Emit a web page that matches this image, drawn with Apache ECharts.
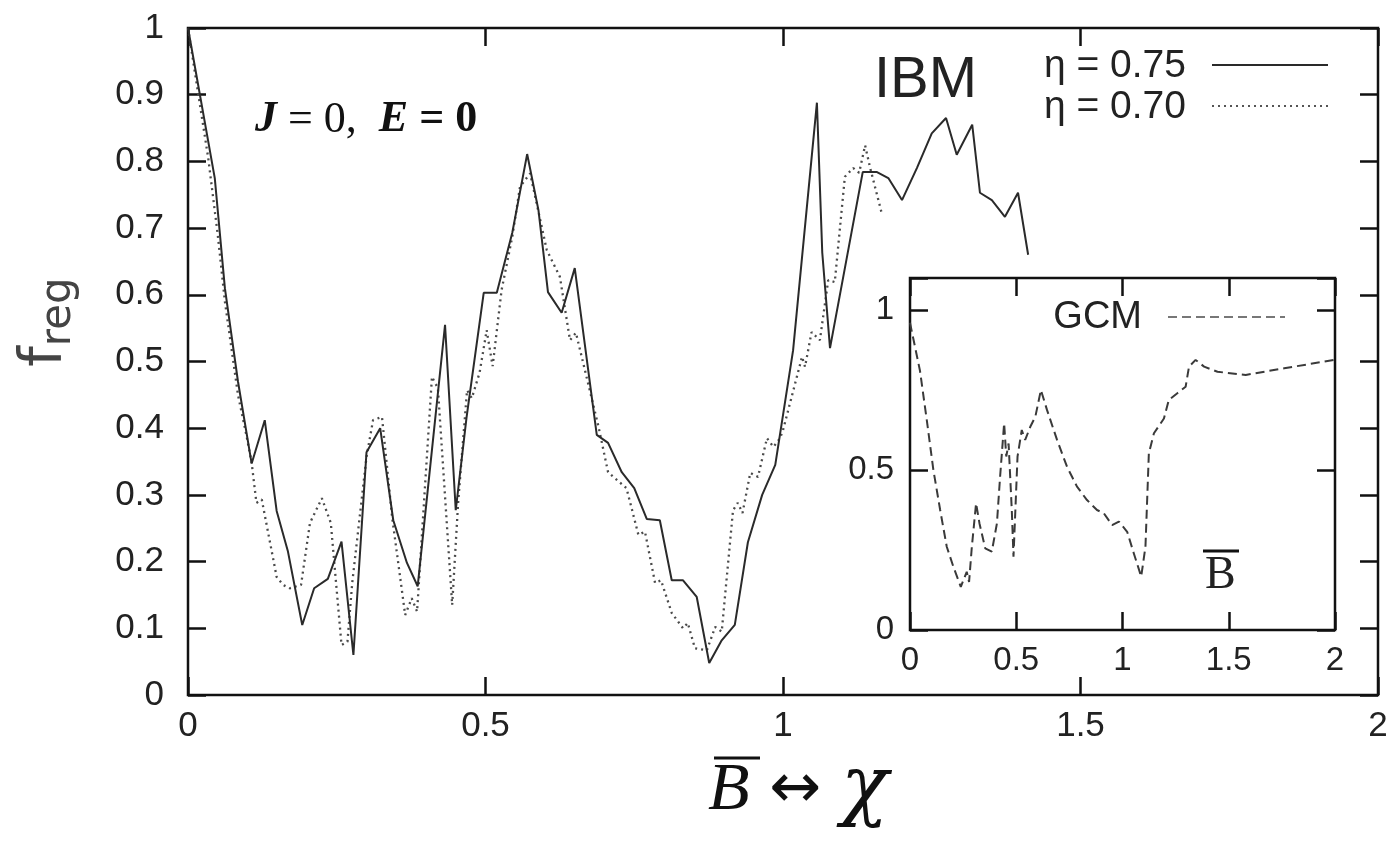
<!DOCTYPE html>
<html><head><meta charset="utf-8">
<script src="https://cdn.jsdelivr.net/npm/echarts@6/dist/echarts.min.js"></script>
<style>html,body{margin:0;padding:0;background:#fff}#c{width:1400px;height:844px}</style>
</head><body><div id="c"></div>
<script>
// ---- data ----
const ibmEta075 = [
  [0,1.0],[0.045,0.775],[0.062,0.61],[0.084,0.47],[0.107,0.347],[0.129,0.412],[0.149,0.276],
  [0.168,0.215],[0.192,0.105],[0.212,0.16],[0.235,0.174],[0.258,0.23],[0.278,0.06],[0.30,0.364],
  [0.323,0.40],[0.345,0.262],[0.368,0.198],[0.386,0.163],[0.432,0.555],[0.450,0.277],[0.468,0.415],
  [0.497,0.603],[0.519,0.603],[0.545,0.693],[0.570,0.811],[0.589,0.727],[0.605,0.604],[0.628,0.573],
  [0.650,0.640],[0.687,0.390],[0.706,0.378],[0.729,0.334],[0.750,0.310],[0.771,0.264],[0.793,0.262],
  [0.813,0.172],[0.832,0.172],[0.855,0.147],[0.876,0.048],[0.897,0.082],[0.919,0.105],[0.941,0.229],
  [0.965,0.300],[0.987,0.345],[1.017,0.517],[1.057,0.888],[1.066,0.663],[1.079,0.520],[1.134,0.784],
  [1.158,0.784],[1.177,0.775],[1.200,0.742],[1.225,0.790],[1.250,0.842],[1.274,0.865],[1.292,0.810],
  [1.318,0.855],[1.331,0.753],[1.351,0.742],[1.373,0.717],[1.395,0.753],[1.412,0.660]
];
const ibmEta070 = [
  [0,1.0],[0.034,0.805],[0.050,0.69],[0.062,0.59],[0.084,0.45],[0.098,0.39],[0.107,0.348],
  [0.115,0.288],[0.124,0.293],[0.149,0.177],[0.160,0.165],[0.171,0.16],[0.190,0.165],[0.205,0.258],
  [0.225,0.295],[0.240,0.258],[0.258,0.075],[0.268,0.08],[0.276,0.168],[0.300,0.357],[0.311,0.412],
  [0.326,0.417],[0.343,0.267],[0.365,0.120],[0.376,0.145],[0.385,0.125],[0.410,0.477],[0.420,0.46],
  [0.444,0.135],[0.454,0.288],[0.469,0.457],[0.477,0.445],[0.490,0.483],[0.502,0.547],[0.512,0.493],
  [0.527,0.607],[0.545,0.687],[0.558,0.762],[0.575,0.782],[0.603,0.667],[0.625,0.627],[0.642,0.532],
  [0.652,0.543],[0.690,0.402],[0.706,0.334],[0.737,0.310],[0.757,0.240],[0.768,0.245],[0.785,0.168],
  [0.795,0.172],[0.813,0.123],[0.832,0.100],[0.840,0.108],[0.852,0.070],[0.872,0.067],[0.886,0.102],
  [0.897,0.095],[0.916,0.277],[0.924,0.288],[0.932,0.273],[0.945,0.333],[0.958,0.327],[0.973,0.385],
  [0.984,0.372],[0.995,0.385],[1.000,0.397],[1.032,0.507],[1.037,0.492],[1.048,0.544],[1.062,0.532],
  [1.076,0.622],[1.087,0.619],[1.104,0.777],[1.118,0.790],[1.128,0.783],[1.138,0.824],[1.146,0.792],
  [1.166,0.722]
];
const gcmCurve = [
  [0,0.96],[0.047,0.81],[0.079,0.656],[0.110,0.50],[0.142,0.375],[0.173,0.26],[0.204,0.198],
  [0.239,0.135],[0.267,0.182],[0.278,0.15],[0.291,0.26],[0.311,0.396],[0.327,0.333],[0.354,0.255],
  [0.385,0.245],[0.409,0.333],[0.424,0.479],[0.443,0.646],[0.453,0.542],[0.464,0.583],[0.479,0.375],
  [0.487,0.229],[0.506,0.542],[0.526,0.625],[0.542,0.594],[0.566,0.635],[0.590,0.667],[0.616,0.75],
  [0.645,0.687],[0.692,0.594],[0.739,0.51],[0.786,0.448],[0.833,0.406],[0.880,0.375],[0.912,0.365],
  [0.951,0.328],[0.983,0.339],[1.022,0.307],[1.053,0.24],[1.088,0.167],[1.108,0.26],[1.124,0.552],
  [1.148,0.615],[1.195,0.661],[1.218,0.719],[1.258,0.74],[1.297,0.76],[1.313,0.823],[1.344,0.844],
  [1.384,0.823],[1.447,0.807],[1.580,0.797],[1.761,0.818],[1.997,0.844]
];
const mainXRange = [0, 2], mainXStep = 0.5;
const mainYRange = [0, 1], mainYStep = 0.1;
const insetXRange = [0, 2], insetXStep = 0.5;
const insetYRange = [0, 1.1], insetYStep = 0.5;
const seriesNames = ['η = 0.75', 'η = 0.70', 'GCM'];

const TXT = '#222';
const SANS = 'Liberation Sans, Arial, sans-serif';
const SERIF = 'Liberation Serif, Times New Roman, serif';
const LINE075 = {color:'#2a2a2a', width:2};
const LINE070 = {color:'#4a4a4a', width:2.3, type:[2,4]};
const LINEGCM = {color:'#3a3a3a', width:2, type:[9,5]};

function fmt(v){ return (Math.round(v*10)/10).toString(); }

function xAxisDef(gi, pos, range, step, labels, fs, margin){
  return {type:'value', gridIndex:gi, position:pos, min:range[0], max:range[1], interval:step,
    axisLine:{show:false, onZero:false}, splitLine:{show:false},
    axisTick:{show:true, inside:true, length:18, lineStyle:{color:'#111', width:2.5}},
    axisLabel:{show:labels, formatter:fmt, fontSize:fs, color:TXT, fontFamily:SANS, margin:margin}};
}
function yAxisDef(gi, pos, range, step, labels, fs, margin, hideMax){
  return {type:'value', gridIndex:gi, position:pos, min:range[0], max:range[1], interval:step,
    axisLine:{show:false, onZero:false}, splitLine:{show:false},
    axisTick:{show:true, inside:true, length:18, lineStyle:{color:'#111', width:2.5}},
    axisLabel:{show:labels, fontSize:fs, color:TXT, fontFamily:SANS, margin:margin,
      formatter:function(v){ if(hideMax && v>1.0001) return ''; return fmt(v); }}};
}

const chart = echarts.init(document.getElementById('c'), null, {renderer:'canvas'});
chart.setOption({
  animation:false,
  backgroundColor:'#fff',
  grid:[
    {left:188, right:22, top:28, bottom:149, show:true, borderColor:'#111', borderWidth:2.5, backgroundColor:'transparent'},
    {left:910, right:65, top:278, bottom:214, show:true, borderColor:'#111', borderWidth:2.5, backgroundColor:'#fff', z:5}
  ],
  xAxis:[
    xAxisDef(0,'bottom',mainXRange,mainXStep,true,35,14),
    xAxisDef(0,'top',mainXRange,mainXStep,false,35,14),
    Object.assign(xAxisDef(1,'bottom',insetXRange,insetXStep,true,33,14),{z:6}),
    Object.assign(xAxisDef(1,'top',insetXRange,insetXStep,false,33,14),{z:6})
  ],
  yAxis:[
    yAxisDef(0,'left',mainYRange,mainYStep,true,35,24,false),
    yAxisDef(0,'right',mainYRange,mainYStep,false,35,24,false),
    Object.assign(yAxisDef(1,'left',insetYRange,insetYStep,true,33,16,true),{z:6}),
    Object.assign(yAxisDef(1,'right',insetYRange,insetYStep,false,33,16,true),{z:6})
  ],
  series:[
    {name:seriesNames[0], type:'line', xAxisIndex:0, yAxisIndex:0, data:ibmEta075, showSymbol:false, symbol:'none',
     lineStyle:LINE075, z:3},
    {name:seriesNames[1], type:'line', xAxisIndex:0, yAxisIndex:0, data:ibmEta070, showSymbol:false, symbol:'none',
     lineStyle:LINE070, z:2},
    {name:seriesNames[2], type:'line', xAxisIndex:2, yAxisIndex:2, data:gcmCurve, showSymbol:false, symbol:'none',
     lineStyle:LINEGCM, z:7}
  ],
  graphic:[
    // annotation
    {type:'text', left:255, top:98, z:20, style:{
      text:'{ji|J}{r| = 0,  }{eb|E}{b| = 0}',
      rich:{
        ji:{fontSize:44, fontFamily:SERIF, fontStyle:'italic', fontWeight:'bold', fill:'#111'},
        r:{fontSize:44, fontFamily:SERIF, fill:'#111'},
        eb:{fontSize:44, fontFamily:SERIF, fontStyle:'italic', fontWeight:'bold', fill:'#111'},
        b:{fontSize:44, fontFamily:SERIF, fontWeight:'bold', fill:'#111'}
      }}},
    {type:'text', left:874, top:52, z:20, style:{text:'IBM', fontSize:58, fontFamily:SANS, fill:TXT}},
    // legend (main)
    {type:'text', x:1186, y:66, z:20, style:{text:seriesNames[0], fontSize:39, fontFamily:SANS, fill:TXT, align:'right', verticalAlign:'middle'}},
    {type:'line', z:20, shape:{x1:1212, y1:65, x2:1328, y2:65}, style:{stroke:LINE075.color, lineWidth:2}},
    {type:'text', x:1186, y:107, z:20, style:{text:seriesNames[1], fontSize:39, fontFamily:SANS, fill:TXT, align:'right', verticalAlign:'middle'}},
    {type:'line', z:20, shape:{x1:1212, y1:106, x2:1328, y2:106}, style:{stroke:'#555', lineWidth:2, lineDash:[2,4]}},
    // legend (inset)
    {type:'text', x:1142, y:318, z:20, style:{text:seriesNames[2], fontSize:38, fontFamily:SANS, fill:TXT, align:'right', verticalAlign:'middle'}},
    {type:'line', z:20, shape:{x1:1168, y1:317, x2:1285, y2:317}, style:{stroke:'#777', lineWidth:2, lineDash:[9,5]}},
    // inset axis label B-bar
    {type:'text', left:1205, top:553, z:20, style:{text:'B', fontSize:46, fontFamily:SERIF, fill:TXT}},
    {type:'line', z:20, shape:{x1:1203, y1:551, x2:1239, y2:551}, style:{stroke:'#111', lineWidth:3}},
    // main x title
    {type:'text', left:708, top:752, z:20, style:{
      text:'{b|B}{a| ↔ }{c|χ}',
      rich:{
        b:{fontSize:68, fontFamily:SERIF, fontStyle:'italic', fill:'#111'},
        a:{fontSize:62, fontFamily:'DejaVu Sans', fill:'#111'},
        c:{fontSize:78, fontFamily:'DejaVu Serif', fontStyle:'italic', fill:'#111'}
      }}},
    {type:'line', z:20, shape:{x1:714, y1:758, x2:760, y2:758}, style:{stroke:'#111', lineWidth:3}},
    // main y title f_reg
    {type:'text', x:46, y:322, rotation:Math.PI/2, z:20, style:{
      text:'{f|f}{s|reg}', align:'center', verticalAlign:'middle',
      rich:{
        f:{fontSize:58, fontFamily:'DejaVu Sans', fill:'#444'},
        s:{fontSize:42, fontFamily:'DejaVu Sans', fill:'#444', padding:[26,0,0,0]}
      }}}
  ]
});
</script></body></html>
